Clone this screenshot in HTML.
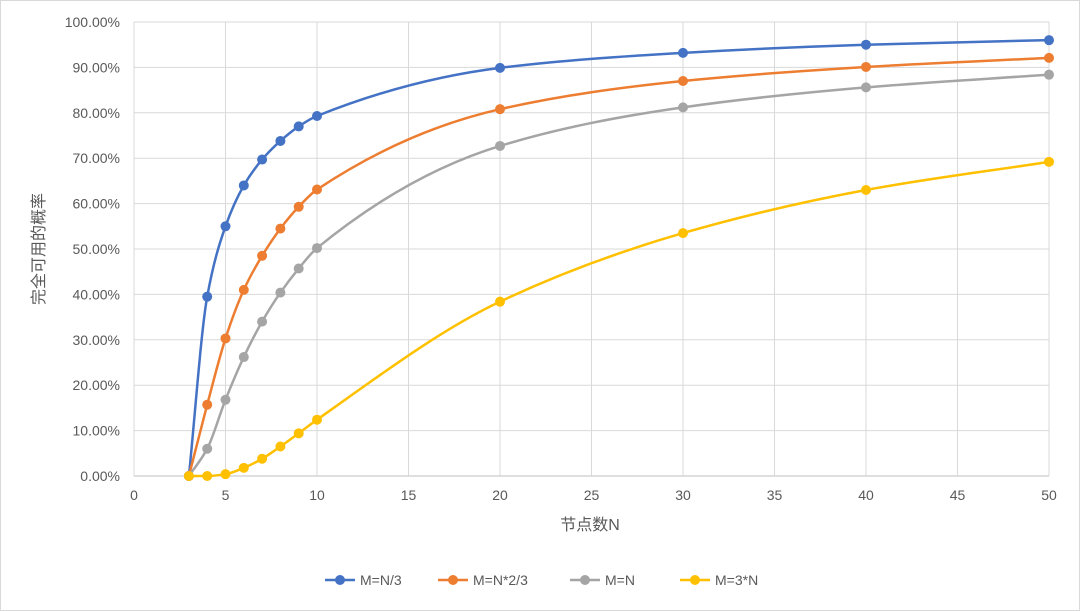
<!DOCTYPE html>
<html><head><meta charset="utf-8"><style>
body{margin:0;background:#fff}
svg{display:block;font-family:"Liberation Sans","Noto Sans CJK SC",sans-serif}
</style></head><body>
<svg id="c" width="1080" height="611">
<rect x="0.5" y="0.5" width="1079" height="610" fill="#fff" stroke="#d9d9d9"/>
<g id="grid"></g><g id="axes"></g><g id="series"></g>
<text x="590" y="530" text-anchor="middle" font-size="16" fill="#595959">节点数N</text>
<text transform="translate(44,249) rotate(-90)" text-anchor="middle" font-size="16" fill="#595959">完全可用的概率</text>
<g id="legend"></g>
</svg>
<script>
const xs=[3,4,5,6,7,8,9,10,20,30,40,50];
const seriesNames=["M=N/3","M=N*2/3","M=N","M=3*N"];
const colors=["#4472C4","#ED7D31","#A5A5A5","#FFC000"];
const s1=[0,39.5,55,64,69.7,73.8,77,79.3,89.9,93.2,95,96];
const s2=[0,15.7,30.3,41,48.5,54.5,59.3,63.1,80.8,87,90.1,92.1];
const s3=[0,6,16.8,26.2,34,40.4,45.7,50.2,72.7,81.2,85.6,88.4];
const s4=[0,0,0.4,1.8,3.8,6.5,9.4,12.4,38.4,53.5,63,69.2];
const xTicks=[0,5,10,15,20,25,30,35,40,45,50];
const yTicks=[0,10,20,30,40,50,60,70,80,90,100];
const data=[s1,s2,s3,s4];
const NS="http://www.w3.org/2000/svg";
const X=v=>134+v*(1049-134)/50, Y=v=>476-v*(476-22)/100;
function mk(t,a,p){const e=document.createElementNS(NS,t);for(const k in a)e.setAttribute(k,a[k]);p.appendChild(e);return e;}
function monotone(P){
 const n=P.length,dx=[],m=[],t=[];
 for(let i=0;i<n-1;i++){dx[i]=P[i+1][0]-P[i][0];m[i]=(P[i+1][1]-P[i][1])/dx[i];}
 t[0]=m[0];t[n-1]=m[n-2];
 for(let i=1;i<n-1;i++){
  if(m[i-1]*m[i]<=0)t[i]=0;
  else{const w1=2*dx[i]+dx[i-1],w2=dx[i]+2*dx[i-1];t[i]=(w1+w2)/(w1/m[i-1]+w2/m[i]);}
 }
 let d='M'+P[0][0]+','+P[0][1];
 for(let i=0;i<n-1;i++){
  const h=dx[i]/3;
  d+=' C'+(P[i][0]+h)+','+(P[i][1]+t[i]*h)+' '+(P[i+1][0]-h)+','+(P[i+1][1]-t[i+1]*h)+' '+P[i+1][0]+','+P[i+1][1];
 }
 return d;
}
const g=document.getElementById('grid'),ax=document.getElementById('axes'),se=document.getElementById('series'),lg=document.getElementById('legend');
yTicks.forEach(t=>{
 const l=mk('line',{x1:134,x2:1049,y1:Y(t),y2:Y(t),stroke:t?'#d9d9d9':'#bfbfbf'},g);
 
 
 const tx=mk('text',{x:120,y:Y(t)+5,'text-anchor':'end','font-size':14,fill:'#595959'},ax);
 tx.textContent=t.toFixed(2)+'%';
 
 
});
xTicks.forEach(t=>{
 const l=mk('line',{x1:X(t),x2:X(t),y1:22,y2:476,stroke:'#d9d9d9'},g);
 
 
 const tx=mk('text',{x:X(t),y:500,'text-anchor':'middle','font-size':14,fill:'#595959'},ax);
 tx.textContent=t;
 
 
});
data.forEach((d,i)=>{
 const P=xs.map((x,j)=>[X(x),Y(d[j])]);
 const pl=mk('path',{d:monotone(P),fill:'none',stroke:colors[i],'stroke-width':2.5,'stroke-linejoin':'round'},se);
 
 
 xs.forEach((x,j)=>{
  const c=mk('circle',{cx:X(x),cy:Y(d[j]),r:5,fill:colors[i]},se);
  
  
 });
 const lx=[325,438,570,680][i];
 const ll=mk('line',{x1:lx,x2:lx+30,y1:580,y2:580,stroke:colors[i],'stroke-width':2.5},lg);
 
 
 const lc=mk('circle',{cx:lx+15,cy:580,r:5,fill:colors[i]},lg);
 
 
 const lt=mk('text',{x:lx+35,y:585,'font-size':14,fill:'#595959'},lg);
 lt.textContent=seriesNames[i];
 
 
});
</script>
</body></html>
